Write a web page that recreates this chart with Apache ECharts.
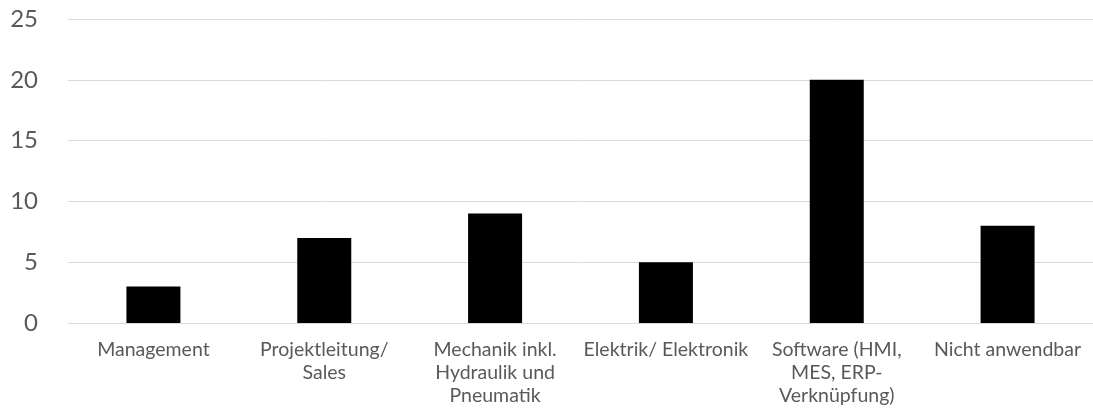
<!DOCTYPE html>
<html>
<head>
<meta charset="utf-8">
<script src="https://cdn.jsdelivr.net/npm/echarts@6/dist/echarts.min.js"></script>
<style>
  html, body { margin: 0; padding: 0; background: #fff; }
  #chart { width: 1093px; height: 418px; }
</style>
</head>
<body>
<div id="chart"></div>
<script>
  // Kategorien (Zeilenumbrüche wie im Original)
  var categories = [
    'Management',
    'Projektleitung/\nSales',
    'Mechanik inkl.\nHydraulik und\nPneumatik',
    'Elektrik/ Elektronik',
    'Software (HMI,\nMES, ERP-\nVerknüpfung)',
    'Nicht anwendbar'
  ];
  var values = [3, 7, 9, 5, 20, 8];
  var yTicks = { min: 0, max: 25, interval: 5 };

  var chart = echarts.init(document.getElementById('chart'));
  chart.setOption({
    backgroundColor: '#ffffff',
    animation: false,
    textStyle: { fontFamily: 'Lato' },
    grid: { left: 68, right: 0, top: 19, bottom: 95, containLabel: false },
    xAxis: {
      type: 'category',
      data: categories,
      axisLine: { show: true, lineStyle: { color: '#d9d9d9', width: 1 } },
      axisTick: { show: false },
      axisLabel: {
        interval: 0,
        color: '#595959',
        fontSize: 19.5,
        lineHeight: 23,
        margin: 15
      }
    },
    yAxis: {
      type: 'value',
      min: yTicks.min,
      max: yTicks.max,
      interval: yTicks.interval,
      axisLine: { show: false },
      axisTick: { show: false },
      splitLine: { lineStyle: { color: '#d9d9d9', width: 1 } },
      axisLabel: { color: '#595959', fontSize: 24, margin: 30 }
    },
    series: [{
      type: 'bar',
      data: values,
      barWidth: 54,
      itemStyle: { color: '#000000' }
    }]
  });
</script>
</body>
</html>
